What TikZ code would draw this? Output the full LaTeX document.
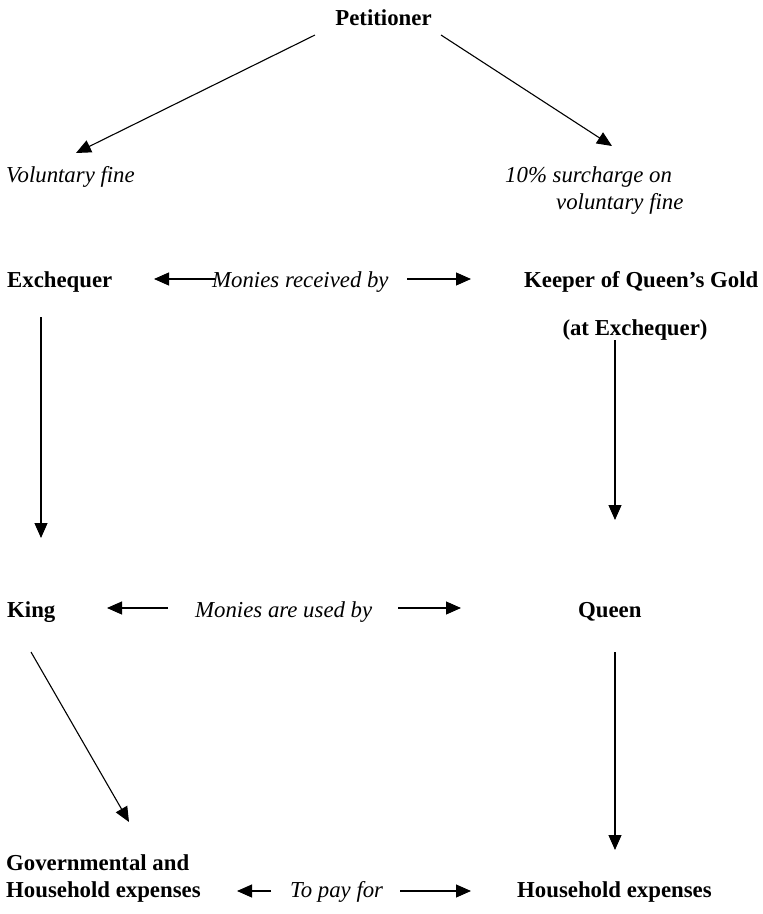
\documentclass[tikz,border=0pt]{standalone}
\usepackage{fontspec}
\setmainfont{Liberation Serif}
\usetikzlibrary{arrows.meta}
\begin{document}
\begin{tikzpicture}[x=1pt,y=-1pt,
  lbl/.style={inner sep=0pt,font=\fontsize{22.8}{27}\selectfont\bfseries},
  itl/.style={inner sep=0pt,font=\fontsize{22.8}{27}\selectfont\itshape},
  arr/.style={line width=1.1pt,-{Triangle[length=15pt,width=13pt]}}]
\useasboundingbox (0,0) rectangle (763,914);
% nodes
\node[lbl,anchor=base] (pet) at (383.5,25) {Petitioner};
\node[itl,anchor=base west] (vf) at (6,182) {Voluntary fine};
\node[itl,anchor=base west,align=left] (sur) at (505,209) {10\% surcharge on\\\hspace*{51pt}voluntary fine};
\node[lbl,anchor=base west] (exch) at (7,287) {Exchequer};
\node[itl,anchor=base west] (mrb) at (212,287) {Monies received by};
\node[lbl,anchor=base west] (keep) at (524,287) {Keeper of Queen’s Gold};
\node[lbl,anchor=base] (atex) at (635,335) {(at Exchequer)};
\node[lbl,anchor=base west] (king) at (7,617) {King};
\node[itl,anchor=base west] (mub) at (195,617) {Monies are used by};
\node[lbl,anchor=base west] (queen) at (578,617) {Queen};
\node[lbl,anchor=base west,align=left] (gov) at (6,897) {Governmental and\\Household expenses};
\node[itl,anchor=base west] (pay) at (290,897) {To pay for};
\node[lbl,anchor=base west] (hh) at (517,897) {Household expenses};
% connector ends
\coordinate (petL) at (315,35);
\coordinate (petR) at (441,35);
\coordinate (vfT) at (76,153);
\coordinate (surT) at (612,146);
\coordinate (mrbL) at (215,279);
\coordinate (exchT) at (154,279);
\coordinate (mrbR) at (407,279);
\coordinate (keepT) at (471,279);
\coordinate (exchB) at (41,317);
\coordinate (kingT) at (41,538);
\coordinate (atexB) at (615,340);
\coordinate (queenT) at (615,520);
\coordinate (mubL) at (168,608);
\coordinate (kingE) at (107,608);
\coordinate (mubR) at (398,608);
\coordinate (queenW) at (461,608);
\coordinate (kingB) at (31,652);
\coordinate (govT) at (129,822);
\coordinate (queenB) at (615,652);
\coordinate (hhT) at (615,850);
\coordinate (payL) at (271,891);
\coordinate (govE) at (237,891);
\coordinate (payR) at (400,891);
\coordinate (hhW) at (471,891);
% connectors
\draw[arr] (petL) -- (vfT);
\draw[arr] (petR) -- (surT);
\draw[arr] (mrbL) -- (exchT);
\draw[arr] (mrbR) -- (keepT);
\draw[arr] (exchB) -- (kingT);
\draw[arr] (atexB) -- (queenT);
\draw[arr] (mubL) -- (kingE);
\draw[arr] (mubR) -- (queenW);
\draw[arr] (kingB) -- (govT);
\draw[arr] (queenB) -- (hhT);
\draw[arr] (payL) -- (govE);
\draw[arr] (payR) -- (hhW);
\end{tikzpicture}
\end{document}
